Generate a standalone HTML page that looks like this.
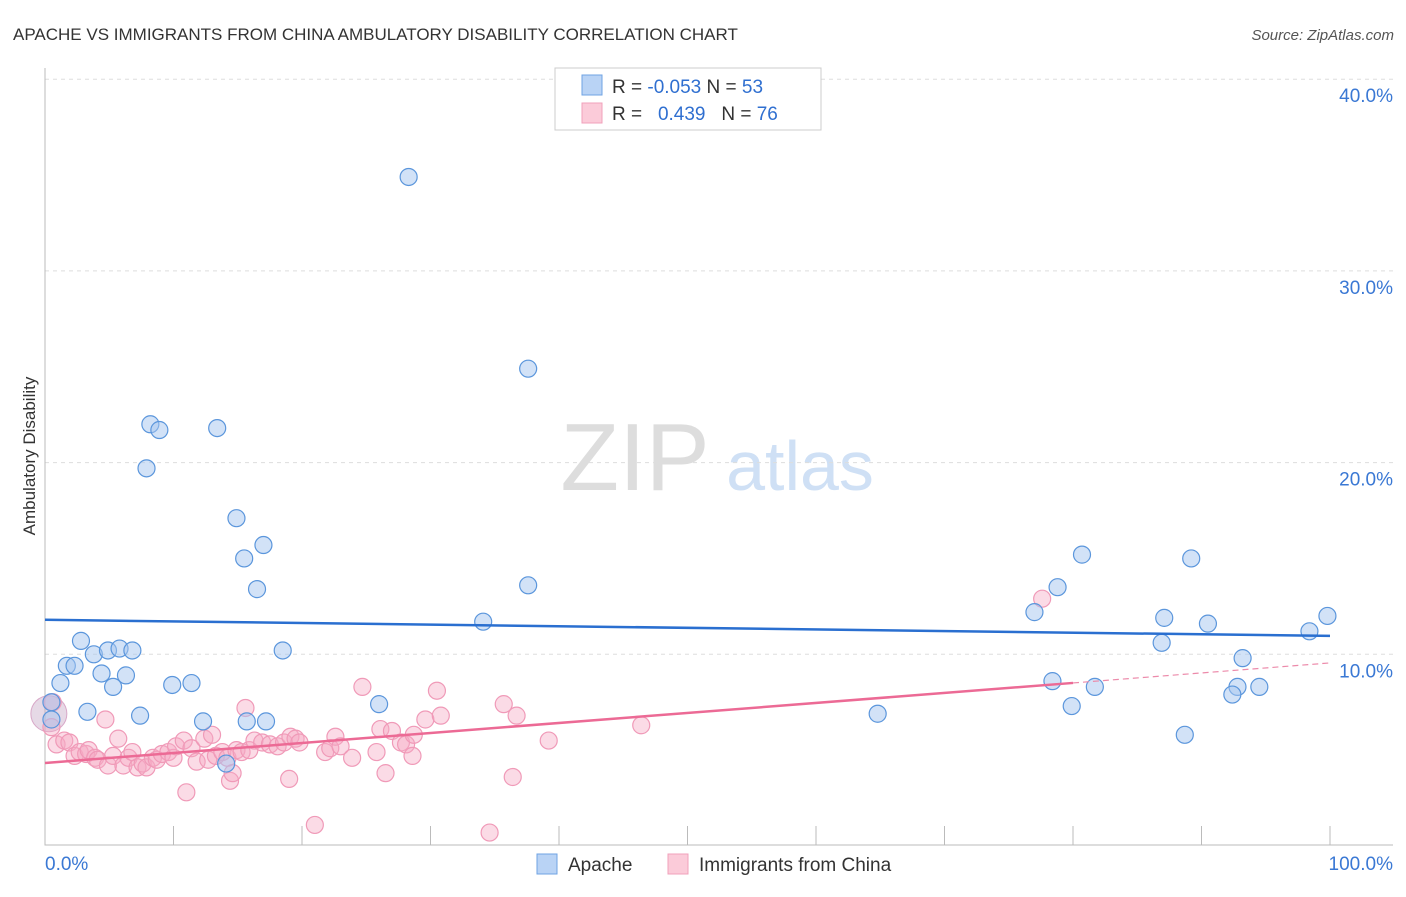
<!DOCTYPE html>
<html><head><meta charset="utf-8"><style>
body{margin:0;background:#fff;font-family:"Liberation Sans",sans-serif}
svg text{font-family:"Liberation Sans",sans-serif}
</style></head><body>
<svg id="c" width="1406" height="892">
<text x="13" y="40" font-size="17" fill="#333">APACHE VS IMMIGRANTS FROM CHINA AMBULATORY DISABILITY CORRELATION CHART</text>
<text x="1394" y="40" font-size="15" fill="#555" text-anchor="end" font-style="italic">Source: ZipAtlas.com</text>
<text x="35" y="456" font-size="17" fill="#333" text-anchor="middle" transform="rotate(-90 35 456)">Ambulatory Disability</text>
<g><text x="635" y="490" font-size="96" fill="#ddd" text-anchor="middle" font-family="Liberation Serif">ZIP</text><text x="800" y="490" font-size="70" fill="#cfe0f5" text-anchor="middle">atlas</text></g>
<g id="grid"></g><g id="marks"></g>
<g>
<rect x="555" y="68" width="266" height="62" fill="#fff" stroke="#ccc"/>
<rect x="582" y="75" width="20" height="20" fill="#b9d3f5" stroke="#6fa3e3"/>
<text x="612" y="93" font-size="19" fill="#333">R = <tspan fill="#2f6fd0">-0.053</tspan>   N = <tspan fill="#2f6fd0">53</tspan></text>
<rect x="582" y="103" width="20" height="20" fill="#fbcbd9" stroke="#f0a0bb"/>
<text x="612" y="120" font-size="19" fill="#333" xml:space="preserve">R =   <tspan fill="#2f6fd0">0.439</tspan>   N = <tspan fill="#2f6fd0">76</tspan></text>
</g>
<g>
<rect x="537" y="854" width="20" height="20" fill="#b9d3f5" stroke="#6fa3e3"/>
<text x="568" y="871" font-size="19" fill="#333">Apache</text>
<rect x="668" y="854" width="20" height="20" fill="#fbcbd9" stroke="#f0a0bb"/>
<text x="699" y="871" font-size="19" fill="#333">Immigrants from China</text>
</g>
</svg>
<script>
const yTicks=[10,20,30,40];
const yTickLabels=["10.0%","20.0%","30.0%","40.0%"];
const xTicks=[0,10,20,30,40,50,60,70,80,90,100];
const apacheX=[28.3,37.6,8.2,8.9,13.4,7.9,14.9,17.0,15.5,16.5,37.6,34.1,18.5,2.8,3.8,4.9,5.8,6.8,1.7,2.3,4.4,6.3,1.2,5.3,9.9,11.4,3.3,7.4,12.3,15.7,17.2,26.0,14.1,0.5,0.5,80.7,89.2,78.8,77.0,87.1,90.5,99.8,98.4,86.9,93.2,78.4,81.7,79.9,92.8,94.5,92.4,64.8,88.7];
const apacheY=[34.9,24.9,22.0,21.7,21.8,19.7,17.1,15.7,15.0,13.4,13.6,11.7,10.2,10.7,10.0,10.2,10.3,10.2,9.4,9.4,9.0,8.9,8.5,8.3,8.4,8.5,7.0,6.8,6.5,6.5,6.5,7.4,4.3,7.5,6.6,15.2,15.0,13.5,12.2,11.9,11.6,12.0,11.2,10.6,9.8,8.6,8.3,7.3,8.3,8.3,7.9,6.9,5.8];
const chinaX=[0.6,0.5,0.9,1.5,1.9,2.3,2.7,3.2,3.4,3.9,4.1,4.7,4.9,5.3,5.7,6.1,6.5,6.8,7.2,7.6,7.9,8.4,8.7,9.1,9.6,10.0,10.2,10.8,11.0,11.4,11.8,12.4,12.7,13.0,13.3,13.8,14.2,14.4,14.6,14.9,15.3,15.6,15.9,16.3,16.9,17.5,18.1,18.6,19.1,19.0,19.5,19.8,21.0,21.8,22.2,22.6,23.0,23.9,24.7,25.8,26.1,26.5,27.0,27.7,28.1,28.7,28.6,29.6,30.5,30.8,35.7,36.4,36.7,34.6,39.2,46.4,77.6];
const chinaY=[7.5,6.2,5.3,5.5,5.4,4.7,4.9,4.8,5.0,4.6,4.5,6.6,4.2,4.7,5.6,4.2,4.6,4.9,4.1,4.3,4.1,4.6,4.5,4.8,4.9,4.6,5.2,5.5,2.8,5.1,4.4,5.6,4.5,5.8,4.7,4.9,4.6,3.4,3.8,5.0,4.9,7.2,5.0,5.5,5.4,5.3,5.2,5.4,5.7,3.5,5.6,5.4,1.1,4.9,5.1,5.7,5.2,4.6,8.3,4.9,6.1,3.8,6.0,5.4,5.3,5.8,4.7,6.6,8.1,6.8,7.4,3.6,6.8,0.7,5.5,6.3,12.9];
const apacheTrend=[11.8,10.96];
const chinaTrend=[4.33,9.55];
const X=v=>45+v*12.85, Y=v=>846-v*19.17;
const NS="http://www.w3.org/2000/svg";
function mk(parent,tag,attrs){const e=document.createElementNS(NS,tag);for(const k in attrs)e.setAttribute(k,attrs[k]);parent.appendChild(e);return e;}
const g=document.getElementById('grid'), m=document.getElementById('marks');
yTicks.forEach((t,i)=>{
 const l=mk(g,'line',{x1:45,x2:1393,y1:Y(t),y2:Y(t),stroke:'#ddd','stroke-dasharray':'4,4'});
 
 
 const tx=mk(g,'text',{x:1393,y:Y(t)+23,'font-size':19,fill:'#3a78d4','text-anchor':'end'});
 tx.textContent=yTickLabels[i];
 
 
});
const ax=mk(g,'path',{d:'M45 68V845H1393',fill:'none',stroke:'#bbb'});


xTicks.forEach(t=>{
 const l=mk(g,'line',{x1:X(t),x2:X(t),y1:826,y2:845,stroke:'#bbb'});
 
 
});
const xl0=mk(g,'text',{x:45,y:870,'font-size':19,fill:'#3a78d4'});xl0.textContent='0.0%';


const xl1=mk(g,'text',{x:1393,y:870,'font-size':19,fill:'#3a78d4','text-anchor':'end'});xl1.textContent='100.0%';


const big=mk(m,'circle',{cx:X(0.3),cy:Y(6.9),r:18,fill:'rgba(200,170,200,0.45)',stroke:'#d8a8c8'});


chinaX.forEach((x,i)=>{
 const c=mk(m,'circle',{cx:X(x),cy:Y(chinaY[i]),r:8.5,fill:'rgba(246,170,196,0.42)',stroke:'#f09ab8','stroke-width':1.2});
 
 
});
apacheX.forEach((x,i)=>{
 const c=mk(m,'circle',{cx:X(x),cy:Y(apacheY[i]),r:8.5,fill:'rgba(165,198,240,0.5)',stroke:'#5b96dc','stroke-width':1.2});
 
 
});
const at=mk(m,'line',{x1:X(0),x2:X(100),y1:Y(apacheTrend[0]),y2:Y(apacheTrend[1]),stroke:'#2a6fd0','stroke-width':2.5});


const cy80=chinaTrend[0]+(chinaTrend[1]-chinaTrend[0])*0.8;
const ct=mk(m,'line',{x1:X(0),x2:X(80),y1:Y(chinaTrend[0]),y2:Y(cy80),stroke:'#ec6a95','stroke-width':2.5});


const cd=mk(m,'line',{x1:X(80),x2:X(100),y1:Y(cy80),y2:Y(chinaTrend[1]),stroke:'#ec8aaa','stroke-width':1.2,'stroke-dasharray':'6,4'});


</script>
</body></html>
